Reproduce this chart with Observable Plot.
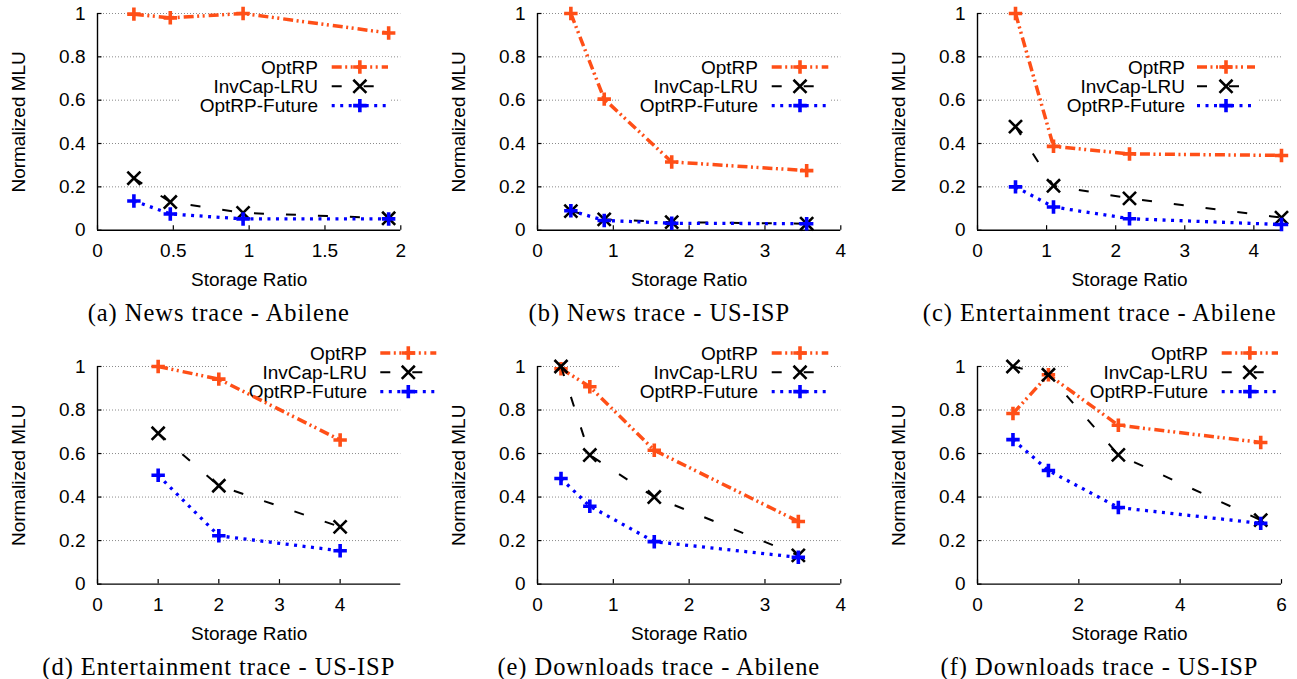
<!DOCTYPE html>
<html><head><meta charset="utf-8">
<script src="https://cdn.jsdelivr.net/npm/d3@7"></script>
<script src="https://cdn.jsdelivr.net/npm/@observablehq/plot@0.6"></script>
<style>
html,body{margin:0;padding:0;background:#fff;}
#root{position:relative;width:1297px;height:679px;overflow:hidden;font-family:"Liberation Sans",Arial,sans-serif;}
.layer{position:absolute;}
.legend{position:absolute;background:#fff;}
.caption{position:absolute;font-family:"Liberation Serif","Times New Roman",serif;font-size:24.5px;letter-spacing:0.95px;white-space:nowrap;transform:translate(-50%,-50%);color:#000;}
</style></head><body><div id="root"></div>
<script>
// ---- data ----
const seriesNames = ["OptRP", "InvCap-LRU", "OptRP-Future"];
const captions = [
  "(a) News trace - Abilene",
  "(b) News trace - US-ISP",
  "(c) Entertainment trace - Abilene",
  "(d) Entertainment trace - US-ISP",
  "(e) Downloads trace - Abilene",
  "(f) Downloads trace - US-ISP"
];
const xLabel = "Storage Ratio";
const yLabel = "Normalized MLU";
const yTicks = [0, 0.2, 0.4, 0.6, 0.8, 1];
const xTicksA = [0, 0.5, 1, 1.5, 2];
const xTicksB = [0, 1, 2, 3, 4];
const xTicksC = [0, 1, 2, 3, 4];
const xTicksD = [0, 1, 2, 3, 4];
const xTicksE = [0, 1, 2, 3, 4];
const xTicksF = [0, 2, 4, 6];

const xA = [0.24, 0.48, 0.96, 1.92];
const optA = [0.997, 0.98, 1.0, 0.91];
const invA = [0.24, 0.13, 0.08, 0.055];
const futA = [0.135, 0.075, 0.052, 0.052];

const xB = [0.44, 0.88, 1.77, 3.55];
const optB = [1.0, 0.605, 0.315, 0.275];
const invB = [0.088, 0.05, 0.037, 0.03];
const futB = [0.09, 0.045, 0.032, 0.03];

const xC = [0.55, 1.1, 2.2, 4.4];
const optC = [1.0, 0.387, 0.352, 0.345];
const invC = [0.478, 0.205, 0.147, 0.058];
const futC = [0.2, 0.107, 0.053, 0.026];

const xD = [1, 2, 4];
const optD = [1.0, 0.942, 0.662];
const invD = [0.693, 0.452, 0.263];
const futD = [0.5, 0.222, 0.153];

const xE = [0.31, 0.69, 1.54, 3.44];
const optE = [0.99, 0.907, 0.615, 0.288];
const invE = [1.0, 0.593, 0.40, 0.132];
const futE = [0.485, 0.358, 0.195, 0.123];

const xF = [0.7, 1.4, 2.78, 5.59];
const optF = [0.784, 0.962, 0.73, 0.651];
const invF = [1.0, 0.962, 0.594, 0.294];
const futF = [0.664, 0.522, 0.352, 0.279];

// ---- styles ----
const styles = [
  {stroke: "#ff4f17", width: 3.5, dash: "10,3.5,2,3.5,2,4", symbol: "plus", r: 4.4, sw: 3.6},
  {stroke: "#000000", width: 2, dash: "10,22", symbol: "times", r: 6.0, sw: 2.6},
  {stroke: "#0000ff", width: 3.3, dash: "3,5.5", symbol: "plus", r: 4.4, sw: 3.6}
];

// ---- layout (page pixels) ----
const panels = [
  {x: xA, ys: [optA, invA, futA], xMax: 2,   xTicks: xTicksA, left: 96.7,  right: 400,    top: 13.3,  bottom: 230,   cap: [218.8, 313.3], leg: {textRight: 318,    sL: 331.7,  sR: 388,    row1: 66.7}},
  {x: xB, ys: [optB, invB, futB], xMax: 4,   xTicks: xTicksB, left: 536.7, right: 840,    top: 13.3,  bottom: 230,   cap: [659.3, 313.3], leg: {textRight: 758,    sL: 771.7,  sR: 828.3,  row1: 66.7}},
  {x: xC, ys: [optC, invC, futC], xMax: 4.4, xTicks: xTicksC, left: 976.7, right: 1280.7, top: 13.3,  bottom: 230,   cap: [1099.7, 313.3], leg: {textRight: 1185, sL: 1197,   sR: 1255,   row1: 66.7}},
  {x: xD, ys: [optD, invD, futD], xMax: 5,   xTicks: xTicksD, left: 96.7,  right: 400,    top: 365.7, bottom: 583.3, cap: [218.8, 666.5], leg: {textRight: 366.7,  sL: 380,    sR: 436,    row1: 353.3}},
  {x: xE, ys: [optE, invE, futE], xMax: 4,   xTicks: xTicksE, left: 536.7, right: 840,    top: 365.7, bottom: 583.3, cap: [658.8, 666.5], leg: {textRight: 758,    sL: 771.7,  sR: 828.3,  row1: 353.3}},
  {x: xF, ys: [optF, invF, futF], xMax: 6,   xTicks: xTicksF, left: 976.7, right: 1280.7, top: 365.7, bottom: 583.3, cap: [1099.5, 666.5], leg: {textRight: 1208, sL: 1221.7, sR: 1278,   row1: 353.3}}
];

const ML = 100, MR = 30, MT = 40, MB = 70;
const FS = 19;
const font = '"Liberation Sans", Arial, Helvetica, sans-serif';
const root = document.getElementById("root");

panels.forEach((p, idx) => {
  const plotW = p.right - p.left, plotH = p.bottom - p.top;
  const width = ML + plotW + MR, height = MT + plotH + MB;
  const baseStyle = {fontSize: FS + "px", fontFamily: font, background: "transparent", overflow: "visible", maxWidth: "none", color: "#000"};
  const common = {width, height, marginLeft: ML, marginRight: MR, marginTop: MT, marginBottom: MB,
    x: {domain: [0, p.xMax]}, y: {domain: [0, 1]}, style: baseStyle};

  // back layer: grid, axes, labels
  const back = Plot.plot({
    ...common,
    marks: [
      Plot.ruleY(yTicks.filter(d => d > 0), {stroke: "#8a8a8a", strokeWidth: 1, strokeDasharray: "1,2"}),
      Plot.ruleX(p.xTicks, {y1: 0, y2: 4.5 / plotH, stroke: "#000", strokeWidth: 1.2}),
      Plot.ruleY(yTicks, {x1: 0, x2: p.xMax * 4.5 / plotW, stroke: "#000", strokeWidth: 1.2}),
      Plot.ruleY([0], {stroke: "#000", strokeWidth: 1.4}),
      Plot.ruleX([0], {stroke: "#000", strokeWidth: 1.4}),
      Plot.axisX({ticks: p.xTicks, tickSize: 0, tickPadding: 13, label: null, fontSize: FS, tickFormat: d => String(d)}),
      Plot.axisY({ticks: yTicks, tickSize: 0, tickPadding: 12, label: null, fontSize: FS, tickFormat: d => String(d)}),
      Plot.text([xLabel], {frameAnchor: "bottom", dy: 50, lineAnchor: "middle", textAnchor: "middle", fontSize: FS, text: d => d}),
      Plot.text([yLabel], {frameAnchor: "left", dx: -79, rotate: -90, textAnchor: "middle", lineAnchor: "middle", fontSize: FS, text: d => d})
    ]
  });

  // front layer: data
  const dataMarks = [];
  p.ys.forEach((ys, si) => {
    const st = styles[si];
    const rows = p.x.map((x, i) => ({x, y: ys[i]}));
    dataMarks.push(Plot.line(rows, {x: "x", y: "y", stroke: st.stroke, strokeWidth: st.width, strokeDasharray: st.dash, strokeLinecap: "butt"}));
    dataMarks.push(Plot.dot(rows, {x: "x", y: "y", symbol: st.symbol, r: st.r, stroke: st.stroke, strokeWidth: st.sw, fill: "none"}));
  });
  const front = Plot.plot({...common, x: {domain: [0, p.xMax], axis: null}, y: {domain: [0, 1], axis: null}, marks: dataMarks});

  [back, front].forEach((svg) => {
    svg.classList.add("layer");
    svg.style.left = (p.left - ML) + "px";
    svg.style.top = (p.top - MT) + "px";
  });
  root.appendChild(back);

  // legend (white key box between grid and data)
  const lg = p.leg;
  const boxLeft = lg.textRight - 138;
  const boxW = lg.sR + 3 - boxLeft;
  const rowH = 19.3;
  const boxTop = lg.row1 - 10;
  const boxH = 2 * rowH + 20;
  const div = document.createElement("div");
  div.className = "legend";
  div.style.left = boxLeft + "px";
  div.style.top = boxTop + "px";
  div.style.width = boxW + "px";
  div.style.height = boxH + "px";
  const svg = d3.create("svg").attr("width", boxW).attr("height", boxH).style("overflow", "visible").style("display", "block");
  seriesNames.forEach((name, si) => {
    const st = styles[si];
    const cy = 10 + si * rowH;
    svg.append("text").attr("x", 138).attr("y", cy).attr("text-anchor", "end").attr("dy", "0.36em")
      .attr("font-family", font).attr("font-size", FS).attr("fill", "#000").text(name);
    const x1 = lg.sL - boxLeft, x2 = lg.sR - boxLeft;
    svg.append("line").attr("x1", x1).attr("x2", x2).attr("y1", cy).attr("y2", cy)
      .attr("stroke", st.stroke).attr("stroke-width", st.width).attr("stroke-dasharray", st.dash);
    const sym = st.symbol === "plus" ? d3.symbolPlus : d3.symbolTimes;
    svg.append("path").attr("d", d3.symbol(sym, st.r * st.r * Math.PI)())
      .attr("transform", `translate(${(x1 + x2) / 2},${cy})`)
      .attr("fill", "none").attr("stroke", st.stroke).attr("stroke-width", st.sw);
  });
  div.appendChild(svg.node());
  root.appendChild(div);
  root.appendChild(front);

  const cap = document.createElement("div");
  cap.className = "caption";
  cap.style.left = p.cap[0] + "px";
  cap.style.top = p.cap[1] + "px";
  cap.textContent = captions[idx];
  root.appendChild(cap);
});
</script></body></html>
